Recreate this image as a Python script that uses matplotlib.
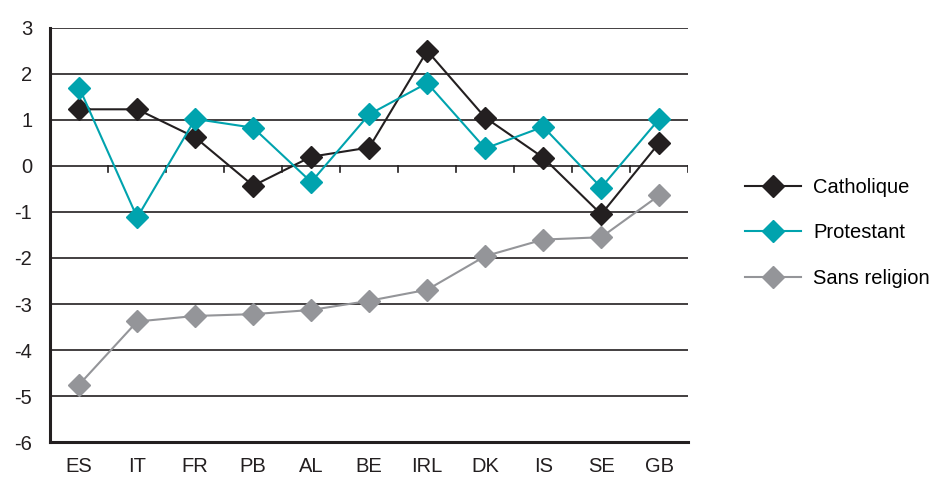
import matplotlib
matplotlib.use("Agg")
import matplotlib.pyplot as plt

plt.rcParams['font.family'] = ['Liberation Sans', 'DejaVu Sans']
plt.rcParams['axes.unicode_minus'] = False

pays = ['ES', 'IT', 'FR', 'PB', 'AL', 'BE', 'IRL', 'DK', 'IS', 'SE', 'GB']
catholique = [1.23, 1.23, 0.62, -0.43, 0.20, 0.40, 2.50, 1.05, 0.18, -1.05, 0.50]
protestant = [1.70, -1.12, 1.02, 0.83, -0.35, 1.12, 1.80, 0.38, 0.85, -0.47, 1.02]
sans_religion = [-4.75, -3.38, -3.26, -3.22, -3.13, -2.93, -2.69, -1.96, -1.60, -1.55, -0.64]
y_ticks = list(range(-6, 4))

fig = plt.figure(figsize=(9.3, 4.8), dpi=100)
ax = fig.add_axes([0.054, 0.079, 0.686, 0.863])

x = list(range(len(pays)))
ax.plot(x, catholique, color='#231f20', lw=1.5, marker='D', ms=11, label='Catholique')
ax.plot(x, protestant, color='#00a3ae', lw=1.5, marker='D', ms=11, label='Protestant')
ax.plot(x, sans_religion, color='#949599', lw=1.5, marker='D', ms=11, label='Sans religion')

# horizontal grid at every unit
for v in y_ticks[1:]:
    ax.axhline(v, color='#231f20', lw=1.2, zorder=0)

# category separators hanging under the zero line
for b in [i + 0.5 for i in x]:
    ax.plot([b, b], [0, -0.13], color='#231f20', lw=1.2, zorder=0)

ax.set_xlim(-0.5, len(pays) - 0.5)
ax.set_ylim(-6, 3)
ax.set_yticks(y_ticks)
ax.set_yticklabels([str(v) for v in y_ticks])
ax.set_xticks(x)
ax.set_xticklabels(pays)
ax.tick_params(axis='both', length=0, labelsize=14.5, colors='#231f20')
ax.tick_params(axis='y', pad=13)
ax.tick_params(axis='x', pad=11)

for s in ['top', 'right']:
    ax.spines[s].set_visible(False)
for s in ['left', 'bottom']:
    ax.spines[s].set_linewidth(2.2)
    ax.spines[s].set_color('#231f20')

ax.legend(loc='center left', bbox_to_anchor=(1.06, 0.505), frameon=False,
          fontsize=14.5, handlelength=2.8, labelspacing=1.3, handletextpad=0.6)

fig.savefig('out.png', dpi=100)
